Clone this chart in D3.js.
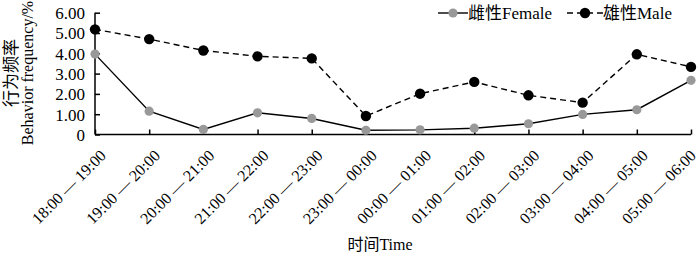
<!DOCTYPE html>
<html><head><meta charset="utf-8">
<script src="https://cdn.jsdelivr.net/npm/d3@7"></script>
<style>
body{margin:0;background:#fff;}
text{font-family:"Liberation Serif","Times New Roman","Noto Sans CJK SC",serif;fill:#000;}
</style></head>
<body><svg id="c" width="700" height="256"></svg>
<script>
const categories = ["18:00 — 19:00","19:00 — 20:00","20:00 — 21:00","21:00 — 22:00","22:00 — 23:00","23:00 — 00:00","00:00 — 01:00","01:00 — 02:00","02:00 — 03:00","03:00 — 04:00","04:00 — 05:00","05:00 — 06:00"];
const female = [3.96,1.15,0.25,1.07,0.79,0.21,0.23,0.31,0.53,0.99,1.22,2.67];
const male = [5.18,4.70,4.14,3.85,3.75,0.91,2.01,2.59,1.93,1.57,3.95,3.33];
const yTicks = [0,1,2,3,4,5,6];
const yTickLabels = ["0","1.00","2.00","3.00","4.00","5.00","6.00"];

const svg = d3.select("#c");
const x0 = 95, x1 = 691, yTop = 12.7, yBot = 134.5;
const x = d3.scalePoint().domain(categories).range([x0, x1]);
const y = d3.scaleLinear().domain([0,6]).range([yBot, yTop]);

// axes
const yAxis = d3.axisLeft(y).tickValues(yTicks).tickSize(-5).tickPadding(10)
  .tickFormat((d,i)=>yTickLabels[i]);
const gy = svg.append("g").attr("transform",`translate(${x0},0)`).call(yAxis);
gy.select(".domain").remove();
gy.selectAll("line").attr("stroke","#000").attr("stroke-width",1.5);
gy.selectAll("text").style("font-size","17px").attr("dy","0.35em");
svg.append("line").attr("x1",x0).attr("x2",x0).attr("y1",yTop).attr("y2",yBot).attr("stroke","#000").attr("stroke-width",1.5);

const xAxis = d3.axisBottom(x).tickSize(-5).tickFormat("");
const gx = svg.append("g").attr("transform",`translate(0,${yBot})`).call(xAxis);
gx.select(".domain").remove();
gx.selectAll("line").attr("stroke","#000").attr("stroke-width",1.5);
svg.append("line").attr("x1",x0).attr("x2",x1).attr("y1",yBot).attr("y2",yBot).attr("stroke","#000").attr("stroke-width",1.5);

// x tick labels rotated
svg.append("g").selectAll("text").data(categories).join("text")
  .attr("transform",(d,i)=>`translate(${Math.min(x(d)+12,697)},${yBot+22}) rotate(-45)`)
  .attr("text-anchor","end").style("font-size","16px").text(d=>d);

// lines
const line = arr => d3.line().x((d,i)=>x(categories[i])).y(d=>y(d))(arr);
svg.append("path").attr("d",line(female)).attr("fill","none").attr("stroke","#000").attr("stroke-width",1.4);
svg.append("path").attr("d",line(male)).attr("fill","none").attr("stroke","#000").attr("stroke-width",1.4).attr("stroke-dasharray","6,4");
svg.append("g").selectAll("circle").data(female).join("circle")
  .attr("cx",(d,i)=>x(categories[i])).attr("cy",d=>y(d)).attr("r",4.6).attr("fill","#999");
svg.append("g").selectAll("circle").data(male).join("circle")
  .attr("cx",(d,i)=>x(categories[i])).attr("cy",d=>y(d)).attr("r",5.2).attr("fill","#000");

// legend
const ly = 13;
const lg = svg.append("g");
lg.append("line").attr("x1",438).attr("x2",468).attr("y1",ly).attr("y2",ly).attr("stroke","#000").attr("stroke-width",1.4);
lg.append("circle").attr("cx",453).attr("cy",ly).attr("r",4.6).attr("fill","#999");
lg.append("text").attr("x",468).attr("y",ly).attr("dy","0.35em").style("font-size","17px").text("雌性Female");
lg.append("line").attr("x1",567).attr("x2",603).attr("y1",ly).attr("y2",ly).attr("stroke","#000").attr("stroke-width",1.4).attr("stroke-dasharray","6,4");
lg.append("circle").attr("cx",585).attr("cy",ly).attr("r",5.2).attr("fill","#000");
lg.append("text").attr("x",603).attr("y",ly).attr("dy","0.35em").style("font-size","17px").text("雄性Male");

// axis titles
svg.append("text").attr("transform","translate(17,73) rotate(-90)").attr("text-anchor","middle").style("font-size","17px").text("行为频率");
svg.append("text").attr("transform","translate(33,73) rotate(-90)").attr("text-anchor","middle").style("font-size","16px").text("Behavior frequency/%");
svg.append("text").attr("x",380).attr("y",250).attr("text-anchor","middle").style("font-size","16px").text("时间Time");
</script></body></html>
